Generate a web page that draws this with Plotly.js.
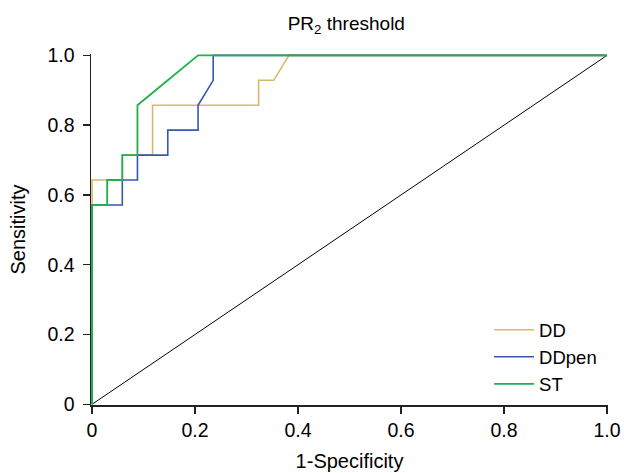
<!DOCTYPE html>
<html>
<head>
<meta charset="utf-8">
<script src="https://cdn.plot.ly/plotly-3.0.1.min.js"></script>
<style>html,body{margin:0;padding:0;background:#fff;}#chart{width:624px;height:473px;}</style>
</head>
<body>
<div id="chart"></div>
<script>
// 1-Specificity (x) and Sensitivity (y) for each ROC curve
const ddX = [0, 0, 0.0588, 0.0588, 0.1176, 0.1176, 0.3235, 0.3235, 0.3529, 0.3824, 1];
const ddY = [0, 0.6429, 0.6429, 0.7143, 0.7143, 0.8571, 0.8571, 0.9286, 0.9286, 1, 1];
const ddpenX = [0, 0, 0.0588, 0.0588, 0.0882, 0.0882, 0.1471, 0.1471, 0.2059, 0.2059, 0.2353, 0.2353, 1];
const ddpenY = [0, 0.5714, 0.5714, 0.6429, 0.6429, 0.7143, 0.7143, 0.7857, 0.7857, 0.8571, 0.9286, 1, 1];
const stX = [0, 0, 0.0294, 0.0294, 0.0588, 0.0588, 0.0882, 0.0882, 0.1471, 0.2059, 1];
const stY = [0, 0.5714, 0.5714, 0.6429, 0.6429, 0.7143, 0.7143, 0.8571, 0.9286, 1, 1];
const refX = [0, 1];
const refY = [0, 1];
const tickVals = [0, 0.2, 0.4, 0.6, 0.8, 1.0];
const tickText = ["0", "0.2", "0.4", "0.6", "0.8", "1.0"];

const font = "Liberation Sans, Arial, sans-serif";
const traces = [
  {x: refX, y: refY, mode: "lines", line: {color: "#000000", width: 1}, showlegend: false, hoverinfo: "skip"},
  {x: ddX, y: ddY, mode: "lines", name: "DD", line: {color: "#D9B76C", width: 1.6}},
  {x: ddpenX, y: ddpenY, mode: "lines", name: "DDpen", line: {color: "#3558AE", width: 1.6}},
  {x: stX, y: stY, mode: "lines", name: "ST", line: {color: "#1DB34A", width: 1.8}}
];
const axisCommon = {
  showgrid: false, zeroline: false, showline: true, linecolor: "#222", linewidth: 1.5,
  ticks: "outside", ticklen: 7, tickwidth: 1.5, tickcolor: "#222",
  tickvals: tickVals, ticktext: tickText, layer: "below traces",
  tickfont: {family: font, size: 19.5, color: "#000"}
};
const layout = {
  width: 624, height: 473,
  margin: {l: 91, r: 16, t: 54, b: 68},
  paper_bgcolor: "#fff", plot_bgcolor: "#fff",
  title: {text: "PR<sub>2</sub> threshold", x: 0.555, xanchor: "center", y: 0.95, yanchor: "middle",
          font: {family: font, size: 19, color: "#000"}},
  xaxis: Object.assign({}, axisCommon, {range: [-0.002, 1.002],
          title: {text: "1-Specificity", font: {family: font, size: 20, color: "#000"}, standoff: 14}}),
  yaxis: Object.assign({}, axisCommon, {range: [-0.002, 1.004], ticklabelstandoff: 4,
          title: {text: "Sensitivity", font: {family: font, size: 20, color: "#000"}, standoff: 16}}),
  legend: {x: 0.77, y: 0.005, xanchor: "left", yanchor: "bottom", bgcolor: "rgba(0,0,0,0)",
           font: {family: font, size: 18.5, color: "#000"}, tracegroupgap: 0, itemwidth: 40},
  showlegend: true
};
Plotly.newPlot("chart", traces, layout, {displayModeBar: false, staticPlot: true});
</script>
</body>
</html>
